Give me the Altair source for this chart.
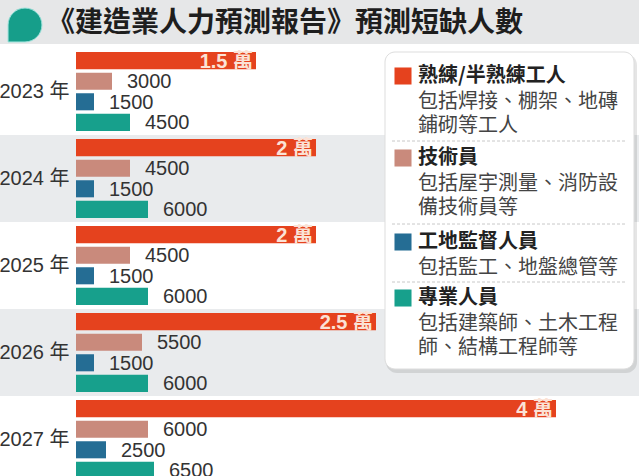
import altair as alt
import pandas as pd

# ---------------- data ----------------
years = ["2023 年", "2024 年", "2025 年", "2026 年", "2027 年"]
categories = ["熟練/半熟練工人", "技術員", "工地監督人員", "專業人員"]
skilled = [15000, 20000, 20000, 25000, 40000]
technicians = [3000, 4500, 4500, 5500, 6000]
supervisors = [1500, 1500, 1500, 1500, 2500]
professionals = [4500, 6000, 6000, 6000, 6500]
descriptions = [
    ["包括焊接、棚架、地磚", "鋪砌等工人"],
    ["包括屋宇測量、消防設", "備技術員等"],
    ["包括監工、地盤總管等"],
    ["包括建築師、土木工程", "師、結構工程師等"],
]
shaded_years = ["2024 年", "2026 年"]
title_text = "《建造業人力預測報告》預測短缺人數"

# ---------------- styles / layout ----------------
colors = ["#e5421e", "#c98a7c", "#256d94", "#17a08c"]
NUM_FONT = "'Liberation Sans', 'Noto Sans CJK TC', sans-serif"
CJK_FONT = "'Noto Sans CJK TC', sans-serif"
W = 639
LEFT, TOP = 76, 48
PW = W - LEFT
GROUP = 87
PH = GROUP * len(years)
XMAX = PW / 12 * 1000  # 12 px per 1000 people

series = [skilled, technicians, supervisors, professionals]
rows = []
for ci, (cat, vals) in enumerate(zip(categories, series)):
    for y, v in zip(years, vals):
        label = f"{v / 10000:g} 萬" if ci == 0 else str(v)
        rows.append({"year": y, "cat": cat, "value": v, "label": label})
df = pd.DataFrame(rows)

yscale = alt.Scale(domain=years, paddingInner=0, paddingOuter=0)
xscale = alt.Scale(domain=[0, XMAX], nice=False, zero=True)
y_axis = alt.Axis(title=None, labelFontSize=20, labelColor="#333333",
                  labelFont=NUM_FONT, ticks=False, domain=False,
                  labelPadding=7, grid=False)
y_enc = alt.Y("year:N", scale=yscale, axis=y_axis)
yoff = alt.YOffset("cat:N", sort=categories,
                   scale=alt.Scale(domain=categories, paddingInner=0.17, paddingOuter=0.2))
x_enc = alt.X("value:Q", scale=xscale, axis=None)

one = pd.DataFrame({"a": [0]})

# background bands
bands = alt.Chart(pd.DataFrame({"year": shaded_years})).mark_rect(color="#e9ebed").encode(
    y=alt.Y("year:N", scale=yscale, axis=y_axis),
    x=alt.value(-LEFT), x2=alt.value(PW),
)

bars = alt.Chart(df).mark_bar().encode(
    x=x_enc, y=y_enc, yOffset=yoff,
    color=alt.Color("cat:N", scale=alt.Scale(domain=categories, range=colors), legend=None),
)

labels_out = alt.Chart(df).transform_filter(
    alt.datum.cat != categories[0]
).mark_text(align="left", baseline="middle", dx=15, dy=1, fontSize=20,
            font=NUM_FONT, color="#333333").encode(
    x=x_enc, y=y_enc, yOffset=yoff, text="label:N")

labels_in = alt.Chart(df).transform_filter(
    alt.datum.cat == categories[0]
).mark_text(align="right", baseline="middle", dx=-3, dy=1, fontSize=20,
            fontWeight="bold", font=NUM_FONT, color="#fbe2d6").encode(
    x=x_enc, y=y_enc, yOffset=yoff, text="label:N")

# title bar
title_bg = alt.Chart(one).mark_rect(color="#e6e7e8").encode(
    x=alt.value(-LEFT), x2=alt.value(PW), y=alt.value(-TOP), y2=alt.value(-4))
icon = alt.Chart(one).mark_point(
    shape="M -1 1 L -1 0 A 1 1 0 1 1 0 1 Z", filled=True, opacity=1,
    color="#169e8a", size=1150, stroke="#9fe3dc", strokeWidth=1).encode(
    x=alt.value(25 - LEFT), y=alt.value(25 - TOP))
title = alt.Chart(one).mark_text(
    text=title_text, align="left", baseline="middle", fontSize=28,
    fontWeight="bold", font=CJK_FONT, color="#1e1e1e").encode(
    x=alt.value(47 - LEFT), y=alt.value(24 - TOP))

# legend box
BX0, BX1, BY0, BY1 = 385, 634, 52, 369
shadow = alt.Chart(one).mark_rect(color="#000000", opacity=0.10, cornerRadius=11).encode(
    x=alt.value(BX0 + 1 - LEFT), x2=alt.value(BX1 + 3 - LEFT),
    y=alt.value(BY0 + 2 - TOP), y2=alt.value(BY1 + 4 - TOP))
box = alt.Chart(one).mark_rect(color="#ffffff", cornerRadius=10, stroke="#dddddd",
                               strokeWidth=1).encode(
    x=alt.value(BX0 - LEFT), x2=alt.value(BX1 - LEFT),
    y=alt.value(BY0 - TOP), y2=alt.value(BY1 - TOP))

legend_layers = [shadow, box]
title_y = [76, 158, 242, 298]
sep_y = [141, 224, 282]
LINE = 24
for i, cat in enumerate(categories):
    ty = title_y[i]
    legend_layers.append(alt.Chart(one).mark_point(
        shape="square", filled=True, opacity=1, size=290, color=colors[i]).encode(
        x=alt.value(403 - LEFT), y=alt.value(ty - TOP)))
    legend_layers.append(alt.Chart(one).mark_text(
        text=cat, align="left", baseline="middle", fontSize=20, fontWeight="bold",
        font=CJK_FONT, color="#222222").encode(
        x=alt.value(418 - LEFT), y=alt.value(ty - TOP)))
    for j, line in enumerate(descriptions[i]):
        legend_layers.append(alt.Chart(one).mark_text(
            text=line, align="left", baseline="middle", fontSize=20,
            font=CJK_FONT, color="#444444").encode(
            x=alt.value(418 - LEFT), y=alt.value(ty + 26 + j * LINE - TOP)))
for sy in sep_y:
    legend_layers.append(alt.Chart(one).mark_rule(
        color="#c8c8c8", strokeWidth=1, strokeDash=[3, 2]).encode(
        x=alt.value(392 - LEFT), x2=alt.value(626 - LEFT), y=alt.value(sy - TOP)))

chart = alt.layer(
    bands, bars, labels_out, labels_in, title_bg, icon, title, *legend_layers
).properties(
    width=PW, height=PH, autosize="none",
    padding={"left": LEFT, "top": TOP, "right": 0, "bottom": 0},
    background="#ffffff",
).configure_view(stroke=None)

chart.save("out.html", embed_options={"renderer": "svg", "actions": False})
